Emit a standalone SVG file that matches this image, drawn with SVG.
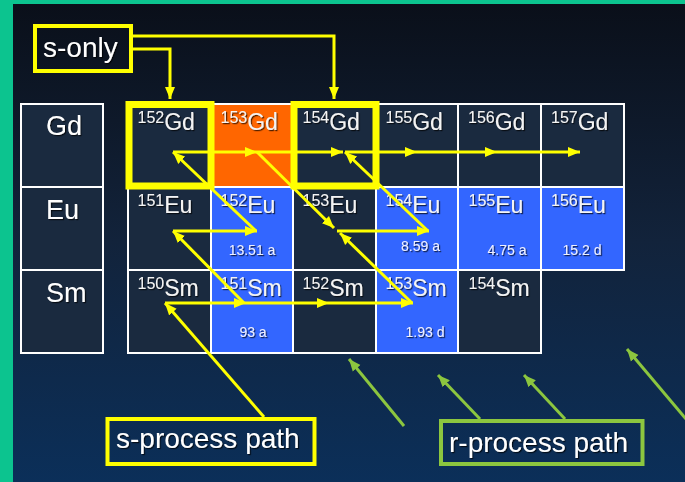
<svg xmlns="http://www.w3.org/2000/svg" width="685" height="482" viewBox="0 0 685 482">
<defs>
<linearGradient id="bg" x1="0" y1="0" x2="0" y2="1">
<stop offset="0" stop-color="#0a0f19"/>
<stop offset="0.5" stop-color="#12233b"/>
<stop offset="1" stop-color="#0b2f59"/>
</linearGradient>
<filter id="sh" x="-10%" y="-10%" width="130%" height="140%">
<feDropShadow dx="1.2" dy="1.2" stdDeviation="0.7" flood-color="#000" flood-opacity="0.7"/>
</filter>
<marker id="ay" markerUnits="userSpaceOnUse" markerWidth="13" markerHeight="11" refX="12" refY="5.5" orient="auto">
<path d="M0,0.5 L12,5.5 L0,10.5 z" fill="#ffff00"/>
</marker>
<marker id="ag" markerUnits="userSpaceOnUse" markerWidth="13" markerHeight="11" refX="12" refY="5.5" orient="auto">
<path d="M0,0.5 L12,5.5 L0,10.5 z" fill="#8cc63f"/>
</marker>
</defs>
<style>
.dk{fill:#1a2a3f;stroke:#fff;stroke-width:2}
.bl{fill:#3366ff;stroke:#fff;stroke-width:2}
.or{fill:#ff6600;stroke:#fff;stroke-width:2}
.lab{fill:#fff;font-family:"Liberation Sans",Arial,sans-serif;font-size:27px;filter:url(#sh)}
.nuc{fill:#f4f4f4;font-family:"Liberation Sans",Arial,sans-serif;font-size:23px;filter:url(#sh)}
.sup{font-size:16px}
.hl{fill:#eef0ff;font-family:"Liberation Sans",Arial,sans-serif;font-size:14px;text-anchor:middle;filter:url(#sh)}
.hb{fill:none;stroke:#ffff00;stroke-width:7}
.yb{fill:none;stroke:#ffff00;stroke-width:4}
.gb{fill:none;stroke:#8cc63f;stroke-width:4}
.big{fill:#fff;font-family:"Liberation Sans",Arial,sans-serif;font-size:28px;filter:url(#sh)}
.yl{fill:none;stroke:#ffff00;stroke-width:3;marker-end:url(#ay)}
.gl{fill:none;stroke:#8cc63f;stroke-width:3;marker-end:url(#ag)}
</style>
<rect x="0" y="0" width="685" height="482" fill="url(#bg)"/>
<rect x="0" y="0" width="13" height="482" fill="#0cc48f"/>
<rect x="0" y="0" width="685" height="4" fill="#0cc48f"/>

<g id="row-labels">
<g id="lab-Gd"><rect class="dk" x="21" y="104" width="82" height="83"/><text class="lab" x="46" y="135">Gd</text></g>
<g id="lab-Eu"><rect class="dk" x="21" y="187" width="82" height="83"/><text class="lab" x="46" y="219">Eu</text></g>
<g id="lab-Sm"><rect class="dk" x="21" y="270" width="82" height="83"/><text class="lab" x="46" y="302">Sm</text></g>
</g>

<g id="cells">
<g id="Gd152"><rect class="dk" x="128" y="104" width="83" height="83"/><text class="nuc" x="137.5" y="130"><tspan class="sup" dy="-7">152</tspan><tspan dy="7">Gd</tspan></text></g>
<g id="Gd153"><rect class="or" x="211" y="104" width="82" height="83"/><text class="nuc" x="220.5" y="130"><tspan class="sup" dy="-7">153</tspan><tspan dy="7">Gd</tspan></text></g>
<g id="Gd154"><rect class="dk" x="293" y="104" width="83" height="83"/><text class="nuc" x="302.5" y="130"><tspan class="sup" dy="-7">154</tspan><tspan dy="7">Gd</tspan></text></g>
<g id="Gd155"><rect class="dk" x="376" y="104" width="82" height="83"/><text class="nuc" x="385.5" y="130"><tspan class="sup" dy="-7">155</tspan><tspan dy="7">Gd</tspan></text></g>
<g id="Gd156"><rect class="dk" x="458" y="104" width="83" height="83"/><text class="nuc" x="468" y="130"><tspan class="sup" dy="-7">156</tspan><tspan dy="7">Gd</tspan></text></g>
<g id="Gd157"><rect class="dk" x="541" y="104" width="83" height="83"/><text class="nuc" x="551" y="130"><tspan class="sup" dy="-7">157</tspan><tspan dy="7">Gd</tspan></text></g>

<g id="Eu151"><rect class="dk" x="128" y="187" width="83" height="83"/><text class="nuc" x="137.5" y="213"><tspan class="sup" dy="-7">151</tspan><tspan dy="7">Eu</tspan></text></g>
<g id="Eu152"><rect class="bl" x="211" y="187" width="82" height="83"/><text class="nuc" x="220.5" y="213"><tspan class="sup" dy="-7">152</tspan><tspan dy="7">Eu</tspan></text><text class="hl" x="252" y="255">13.51 a</text></g>
<g id="Eu153"><rect class="dk" x="293" y="187" width="83" height="83"/><text class="nuc" x="302.5" y="213"><tspan class="sup" dy="-7">153</tspan><tspan dy="7">Eu</tspan></text></g>
<g id="Eu154"><rect class="bl" x="376" y="187" width="82" height="83"/><text class="nuc" x="385.5" y="213"><tspan class="sup" dy="-7">154</tspan><tspan dy="7">Eu</tspan></text><text class="hl" x="420.5" y="251">8.59 a</text></g>
<g id="Eu155"><rect class="bl" x="458" y="187" width="83" height="83"/><text class="nuc" x="468.5" y="213"><tspan class="sup" dy="-7">155</tspan><tspan dy="7">Eu</tspan></text><text class="hl" x="507" y="255">4.75 a</text></g>
<g id="Eu156"><rect class="bl" x="541" y="187" width="83" height="83"/><text class="nuc" x="551" y="213"><tspan class="sup" dy="-7">156</tspan><tspan dy="7">Eu</tspan></text><text class="hl" x="582" y="255">15.2 d</text></g>

<g id="Sm150"><rect class="dk" x="128" y="270" width="83" height="83"/><text class="nuc" x="137.5" y="296"><tspan class="sup" dy="-7">150</tspan><tspan dy="7">Sm</tspan></text></g>
<g id="Sm151"><rect class="bl" x="211" y="270" width="82" height="83"/><text class="nuc" x="220.5" y="296"><tspan class="sup" dy="-7">151</tspan><tspan dy="7">Sm</tspan></text><text class="hl" x="253" y="337">93 a</text></g>
<g id="Sm152"><rect class="dk" x="293" y="270" width="83" height="83"/><text class="nuc" x="302.5" y="296"><tspan class="sup" dy="-7">152</tspan><tspan dy="7">Sm</tspan></text></g>
<g id="Sm153"><rect class="bl" x="376" y="270" width="82" height="83"/><text class="nuc" x="385.5" y="296"><tspan class="sup" dy="-7">153</tspan><tspan dy="7">Sm</tspan></text><text class="hl" x="425" y="337">1.93 d</text></g>
<g id="Sm154"><rect class="dk" x="458" y="270" width="83" height="83"/><text class="nuc" x="468.5" y="296"><tspan class="sup" dy="-7">154</tspan><tspan dy="7">Sm</tspan></text></g>
</g>

<g id="s-only-highlights">
<rect class="hb" x="129" y="104.5" width="82" height="81.5"/>
<rect class="hb" x="294" y="104.5" width="82" height="81.5"/>
</g>

<g id="s-only"><rect class="yb" x="35" y="26" width="96" height="45"/><text class="big" x="43" y="57">s-only</text></g>
<g id="s-process"><rect class="yb" x="107.5" y="419" width="207" height="45"/><text class="big" x="116" y="448">s-process path</text></g>
<g id="r-process"><rect class="gb" x="441" y="421" width="201.5" height="43"/><text class="big" x="449" y="452">r-process path</text></g>

<g id="connectors">
<path class="yl" d="M131,49 H170 V99"/>
<path class="yl" d="M131,36 H334 V99"/>
<line class="yl" x1="173" y1="152" x2="257" y2="152"/>
<line class="yl" x1="257" y1="152" x2="343" y2="152"/>
<line class="yl" x1="345" y1="152" x2="417" y2="152"/>
<line class="yl" x1="417" y1="152" x2="497" y2="152"/>
<line class="yl" x1="497" y1="152" x2="580" y2="152"/>
<line class="yl" x1="256" y1="231" x2="173" y2="152"/>
<line class="yl" x1="257" y1="152" x2="334" y2="228"/>
<line class="yl" x1="428" y1="231" x2="345" y2="152"/>
<line class="yl" x1="173" y1="231" x2="257" y2="231"/>
<line class="yl" x1="337" y1="231" x2="429" y2="231"/>
<line class="yl" x1="244" y1="303" x2="173" y2="231"/>
<line class="yl" x1="412" y1="303" x2="340" y2="233"/>
<line class="yl" x1="165" y1="303" x2="246" y2="303"/>
<line class="yl" x1="246" y1="303" x2="329" y2="303"/>
<line class="yl" x1="329" y1="303" x2="413" y2="303"/>
<line class="yl" x1="264" y1="417" x2="165" y2="303"/>
<line class="gl" x1="404" y1="426" x2="349" y2="359"/>
<line class="gl" x1="480" y1="419" x2="438" y2="375"/>
<line class="gl" x1="565" y1="419" x2="524" y2="375"/>
<line class="gl" x1="686" y1="419" x2="627" y2="349"/>
</g>
</svg>
